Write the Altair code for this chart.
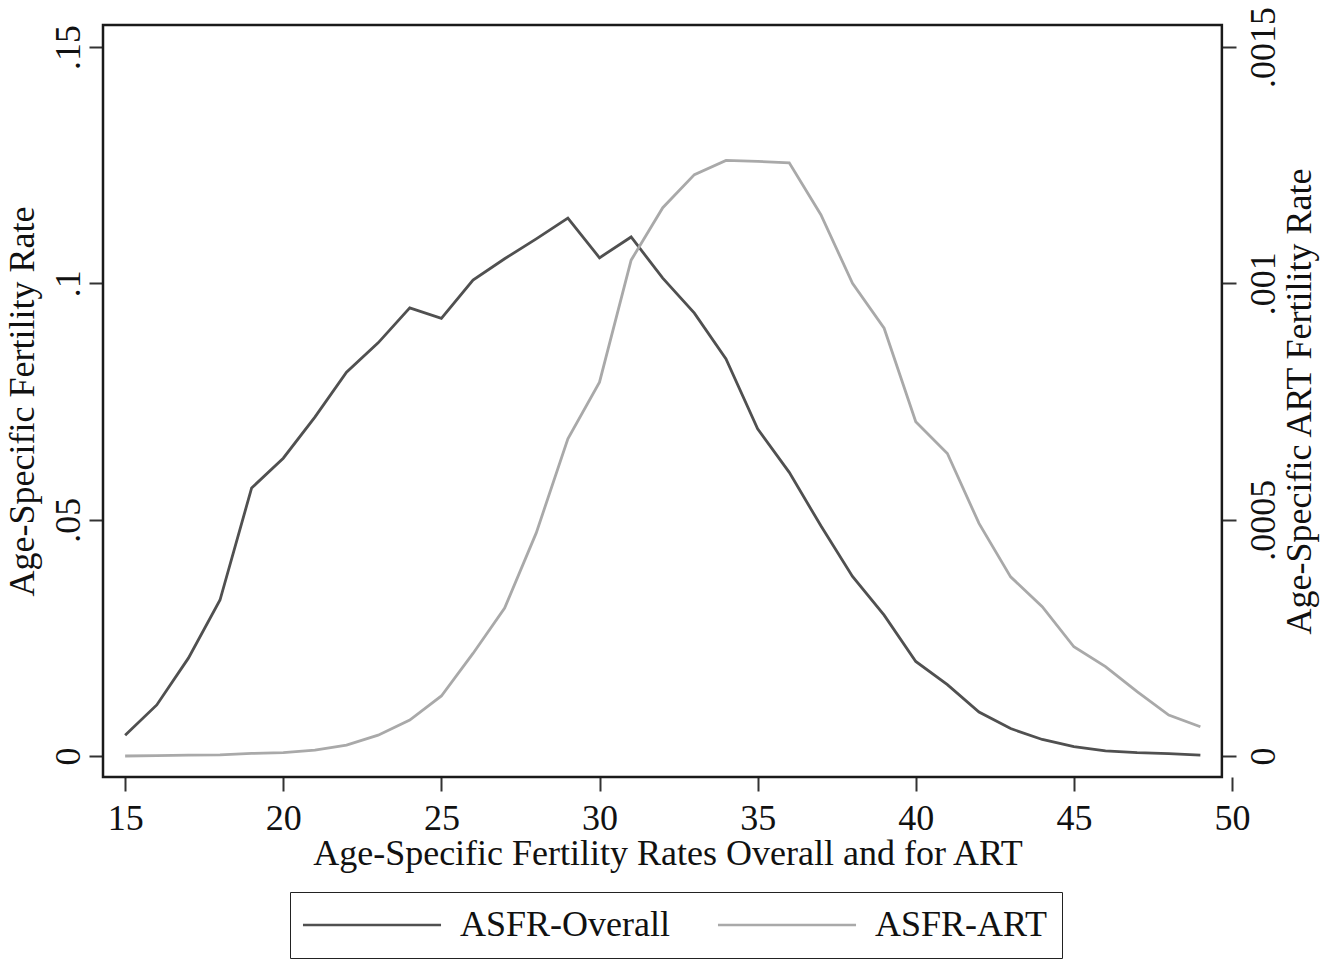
import altair as alt
import pandas as pd

ages = list(range(15, 50))
asfr_overall = [0.0044, 0.0108, 0.0207, 0.0330, 0.0567, 0.0630, 0.0717, 0.0812, 0.0874, 0.0948,
                0.0926, 0.1007, 0.1052, 0.1094, 0.1138, 0.1054, 0.1098, 0.1011, 0.0937, 0.0840,
                0.0692, 0.0600, 0.0487, 0.0380, 0.0298, 0.0200, 0.0151, 0.0093, 0.0058, 0.0035,
                0.0020, 0.0011, 0.0007, 0.0005, 0.0002]
asfr_art = [0.0000000, 0.0000010, 0.0000020, 0.0000025, 0.0000055, 0.0000070, 0.0000125, 0.0000230,
            0.0000440, 0.0000760, 0.0001270, 0.0002170, 0.0003130, 0.0004720, 0.0006710, 0.0007910,
            0.0010490, 0.0011600, 0.0012300, 0.0012600, 0.0012580, 0.0012550, 0.0011450, 0.0010000,
            0.0009050, 0.0007070, 0.0006400, 0.0004920, 0.0003790, 0.0003160, 0.0002310, 0.0001890,
            0.0001360, 0.0000867, 0.0000620]
series_names = ["ASFR-Overall", "ASFR-ART"]
series_colors = ["#505050", "#a9a9a9"]
x_ticks = [15, 20, 25, 30, 35, 40, 45, 50]
left_ticks = [0, 0.05, 0.1, 0.15]
right_ticks = [0, 0.0005, 0.001, 0.0015]

X_DOMAIN = [14.3, 50]
FRAME_X = [14.3, 49.68]
Y_DOMAIN = [-0.004443, 0.15465]
Y2_DOMAIN = [-0.00004443, 0.0015465]

FONT = "Liberation Serif"
FS = 36

df1 = pd.DataFrame({"age": ages, "rate": asfr_overall, "series": series_names[0]})
df2 = pd.DataFrame({"age": ages, "rate": asfr_art, "series": series_names[1]})

# long horizontal legend stroke: nominal size small so that entry height follows the label
legend_line = "M-2.86,0H16.86"

color = alt.Color(
    "series:N",
    scale=alt.Scale(domain=series_names, range=series_colors),
    legend=alt.Legend(
        title=None, orient="none", legendX=187, legendY=867, direction="horizontal",
        strokeColor="#222222", padding=15, symbolType=legend_line, symbolSize=196,
        symbolStrokeWidth=2.6, symbolFillColor="transparent",
        labelFont=FONT, labelFontSize=FS, labelColor="#111111",
        labelOffset=119, columnPadding=42, labelLimit=400,
    ),
)

x_enc = alt.X(
    "age:Q",
    scale=alt.Scale(domain=X_DOMAIN, nice=False, zero=False),
    axis=alt.Axis(
        values=x_ticks, title="Age-Specific Fertility Rates Overall and for ART",
        domain=False, grid=False, tickSize=14, tickWidth=2, tickColor="#333333",
        labelFont=FONT, labelFontSize=FS, labelColor="#111111", labelPadding=10,
        labelBaseline="top", labelFlush=False,
        titleFont=FONT, titleFontSize=FS, titleFontWeight="normal", titleColor="#111111",
        titleBaseline="alphabetic", titleY=87,
    ),
)

line1 = alt.Chart(df1).mark_line(strokeWidth=2.8).encode(
    x=x_enc,
    y=alt.Y(
        "rate:Q",
        scale=alt.Scale(domain=Y_DOMAIN, nice=False, zero=False),
        axis=alt.Axis(
            values=left_ticks, title="Age-Specific Fertility Rate", orient="left",
            labelExpr="datum.value == 0 ? '0' : replace(toString(datum.value), '0.', '.')",
            domain=False, grid=False, tickSize=14, tickWidth=2, tickColor="#333333",
            labelFont=FONT, labelFontSize=FS, labelColor="#111111", labelPadding=10,
            labelAngle=270, labelAlign="center", labelBaseline="alphabetic",
            titleFont=FONT, titleFontSize=FS, titleFontWeight="normal", titleColor="#111111",
            titleAngle=270, titleAlign="center", titleBaseline="alphabetic",
            titleX=-70, titleY=376,
        ),
    ),
    color=color,
)

frame = alt.Chart(pd.DataFrame({"x0": [FRAME_X[0]], "x1": [FRAME_X[1]],
                                "y0": [Y_DOMAIN[0]], "y1": [Y_DOMAIN[1]]})).mark_rect(
    filled=False, stroke="#1a1a1a", strokeWidth=2.5
).encode(x="x0:Q", x2="x1:Q", y="y0:Q", y2="y1:Q")

layer1 = alt.layer(line1, frame)

line2 = alt.Chart(df2).mark_line(strokeWidth=2.8).encode(
    x=x_enc,
    y=alt.Y(
        "rate:Q",
        scale=alt.Scale(domain=Y2_DOMAIN, nice=False, zero=False),
        axis=alt.Axis(
            values=right_ticks, title="Age-Specific ART Fertility Rate", orient="right",
            offset=-10,
            labelExpr="datum.value == 0 ? '0' : replace(toString(datum.value), '0.', '.')",
            domain=False, grid=False, tickSize=14, tickWidth=2, tickColor="#333333",
            labelFont=FONT, labelFontSize=FS, labelColor="#111111", labelPadding=10,
            labelAngle=270, labelAlign="center", labelBaseline="top",
            titleFont=FONT, titleFontSize=FS, titleFontWeight="normal", titleColor="#111111",
            titleAngle=270, titleAlign="center", titleBaseline="alphabetic",
            titleX=88, titleY=376,
        ),
    ),
    color=color,
)

chart = alt.layer(layer1, line2).resolve_scale(y="independent").properties(
    width=1129, height=752,
    autosize=alt.AutoSizeParams(type="none"),
    padding={"left": 103, "top": 25, "right": 100, "bottom": 183},
    background="white",
).configure_view(stroke=None)

chart.save("out.html", embed_options={"renderer": "svg", "actions": False})
